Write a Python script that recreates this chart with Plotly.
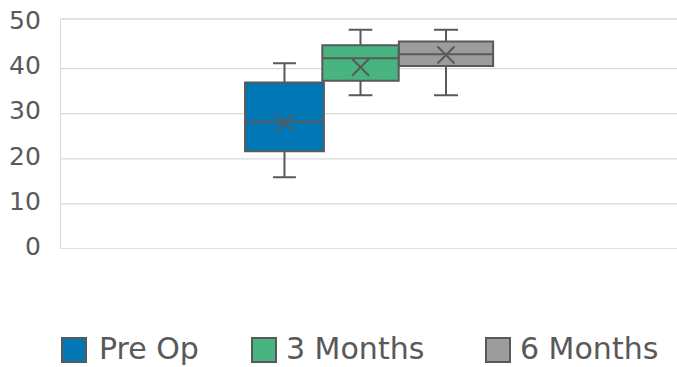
import plotly.graph_objects as go

# ---- data ----
categories = ["Pre Op", "3 Months", "6 Months"]
mins = [15.9, 34.1, 34.1]
q1s = [21.7, 37.3, 40.6]
medians = [28.2, 42.3, 43.2]
q3s = [36.9, 45.2, 46.0]
maxs = [41.2, 48.6, 48.6]
means = [28.0, 40.3, 43.0]
y_ticks = [0, 10, 20, 30, 40, 50]

# ---- styling ----
colors = ["#0177B6", "#48B47F", "#9C9C9C"]
positions = [0.3628, 0.4862, 0.625]
widths = [0.128, 0.124, 0.153]
whisker_w = [0.29, 0.31, 0.255]
edge = "#595959"
grid = "#D9D9D9"
font_fam = "DejaVu Sans"

W, H = 677, 367
L, R, T, B = 61, 0, 19, 118
pw, ph = W - L - R, H - T - B

fig = go.Figure()
for i, name in enumerate(categories):
    fig.add_trace(go.Box(
        name=name,
        x=[positions[i]],
        q1=[q1s[i]], median=[medians[i]], q3=[q3s[i]],
        lowerfence=[mins[i]], upperfence=[maxs[i]],
        width=widths[i], whiskerwidth=whisker_w[i],
        fillcolor=colors[i],
        line=dict(color=edge, width=2),
        boxpoints=False,
        showlegend=False,
        hoverinfo="skip",
    ))

fig.add_trace(go.Scatter(
    x=positions, y=means, mode="markers",
    marker=dict(symbol="x-thin", size=17, line=dict(color=edge, width=2), color=edge),
    showlegend=False, hoverinfo="skip",
))

shapes = []
for v in y_ticks[:-1]:
    shapes.append(dict(type="line", xref="paper", yref="y", x0=0, x1=1, y0=v, y1=v,
                       line=dict(color=grid, width=1.3), layer="below"))
shapes.append(dict(type="line", xref="paper", yref="paper", x0=0, x1=1, y0=1, y1=1,
                   line=dict(color=grid, width=1.3), layer="below"))

# custom legend (swatches + labels)
def px_x(p):
    return (p - L) / pw

def px_y(p):
    return (T + ph - p) / ph

leg_swatch_x = [62, 252, 486]
leg_text_x = [97, 284, 518]
sw = 24
ly0, ly1 = 338, 362
annotations = []
for i, name in enumerate(categories):
    shapes.append(dict(type="rect", xref="paper", yref="paper",
                       x0=px_x(leg_swatch_x[i]), x1=px_x(leg_swatch_x[i] + sw),
                       y0=px_y(ly1), y1=px_y(ly0),
                       fillcolor=colors[i], line=dict(color=edge, width=2)))
    annotations.append(dict(xref="paper", yref="paper", x=px_x(leg_text_x[i]),
                            y=px_y(348.5), xanchor="left", yanchor="middle",
                            text=name, showarrow=False,
                            font=dict(family=font_fam, size=30, color=edge)))

fig.update_layout(
    width=W, height=H,
    margin=dict(l=L, r=R, t=T, b=B),
    paper_bgcolor="white", plot_bgcolor="white",
    font=dict(family=font_fam, color=edge),
    xaxis=dict(range=[0, 1], visible=False, fixedrange=True),
    yaxis=dict(range=[0, 51], tickvals=y_ticks, showgrid=False, zeroline=False,
               showline=True, linecolor=grid, linewidth=1.3,
               tickfont=dict(family=font_fam, size=25, color=edge),
               ticks="", ticklabelstandoff=14, ticklabelshift=-3, fixedrange=True),
    shapes=shapes,
    annotations=annotations,
    showlegend=False,
)

fig.write_html("out.html", config={"displayModeBar": False},
               post_script="document.body.style.margin='0';document.body.style.padding='0';")
